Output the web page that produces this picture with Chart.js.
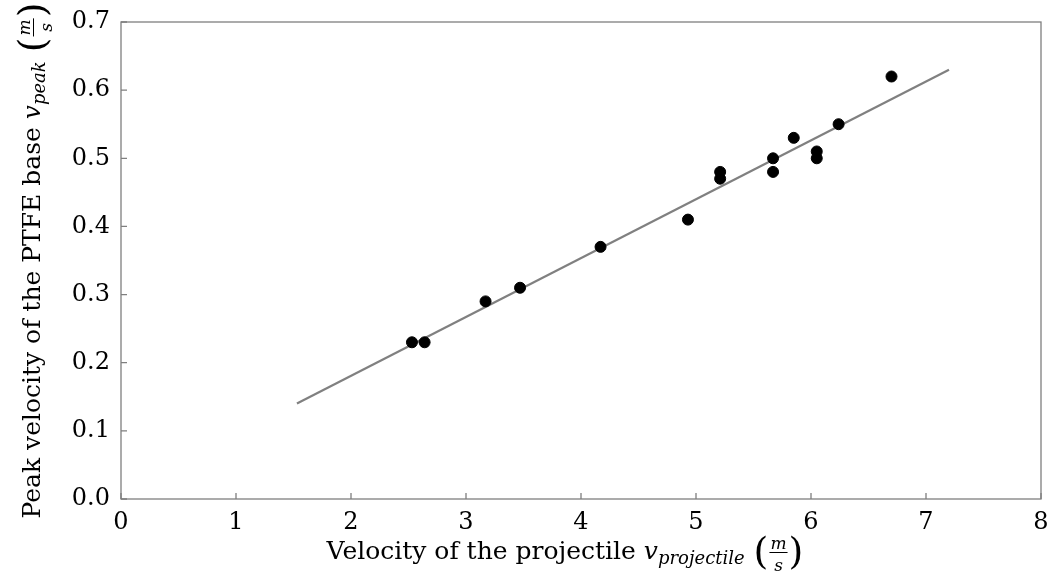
<!DOCTYPE html>
<html>
<head>
<meta charset="utf-8">
<script src="https://cdn.jsdelivr.net/npm/chart.js@4/dist/chart.umd.min.js"></script>
<style>
  html, body { margin: 0; padding: 0; background: #fff; }
  #wrap { width: 1049px; height: 576px; }
</style>
</head>
<body>
<div id="wrap"><canvas id="velChart" width="1049" height="576"></canvas></div>
<script>
// measured points
const projectileVel = [2.53, 2.64, 3.17, 3.47, 4.17, 4.93, 5.21, 5.21, 5.67, 5.67, 5.85, 6.05, 6.05, 6.24, 6.70];
const peakVel = [0.23, 0.23, 0.29, 0.31, 0.37, 0.41, 0.48, 0.47, 0.50, 0.48, 0.53, 0.51, 0.50, 0.55, 0.62];
// linear fit end points
const fitX = [1.53, 7.2];
const fitY = [0.14, 0.63];
// tick labels
const xTicks = [0, 1, 2, 3, 4, 5, 6, 7, 8];
const yTicks = [0.0, 0.1, 0.2, 0.3, 0.4, 0.5, 0.6, 0.7];

const SERIF = "'DejaVu Serif', 'Liberation Serif', serif";
const GRAY = "#7f7f7f";

// draws a title made of runs: plain text, italic subscript, (m/s) fraction
function drawRuns(ctx, runs) {
    const widths = runs.map(r => {
        ctx.font = r.font;
        if (r.frac) {
            return Math.max(ctx.measureText(r.num).width, ctx.measureText(r.den).width) + 4;
        }
        return ctx.measureText(r.text).width + (r.gap || 0);
    });
    const total = widths.reduce((a, b) => a + b, 0);
    let x = -total / 2;
    runs.forEach((r, i) => {
        ctx.font = r.font;
        if (r.frac) {
            const w = widths[i];
            ctx.textAlign = "center";
            ctx.fillText(r.num, x + w / 2, -10);
            ctx.fillText(r.den, x + w / 2, 12);
            ctx.beginPath();
            ctx.moveTo(x + 1, -6.5);
            ctx.lineTo(x + w - 1, -6.5);
            ctx.lineWidth = 1;
            ctx.strokeStyle = "#000";
            ctx.stroke();
            ctx.textAlign = "left";
        } else {
            ctx.fillText(r.text, x, r.dy || 0);
        }
        x += widths[i];
    });
}

function titleRuns(word, sub) {
    return [
        { text: word, font: "25px " + SERIF },
        { text: "v", font: "italic 25px " + SERIF },
        { text: sub, font: "italic 18px " + SERIF, dy: 5, gap: 9 },
        { text: "(", font: "38px " + SERIF, dy: 5 },
        { frac: true, num: "m", den: "s", font: "italic 17px " + SERIF },
        { text: ")", font: "38px " + SERIF, dy: 5 }
    ];
}

const framePlugin = {
    id: "frame",
    afterDraw(chart) {
        const { ctx, chartArea: a, scales } = chart;
        ctx.save();
        ctx.strokeStyle = GRAY;
        ctx.lineWidth = 1.3;
        ctx.strokeRect(a.left, a.top, a.right - a.left, a.bottom - a.top);
        // inward ticks
        ctx.beginPath();
        xTicks.forEach(v => {
            const px = scales.x.getPixelForValue(v);
            ctx.moveTo(px, a.bottom);
            ctx.lineTo(px, a.bottom - 6);
        });
        yTicks.forEach(v => {
            const py = scales.y.getPixelForValue(v);
            ctx.moveTo(a.left, py);
            ctx.lineTo(a.left + 6, py);
        });
        ctx.stroke();

        ctx.fillStyle = "#000";
        ctx.textBaseline = "alphabetic";
        ctx.textAlign = "left";
        // x title
        ctx.save();
        ctx.translate(565, 559);
        drawRuns(ctx, titleRuns("Velocity of the projectile ", "projectile"));
        ctx.restore();
        // y title
        ctx.save();
        ctx.translate(40, (a.top + a.bottom) / 2);
        ctx.rotate(-Math.PI / 2);
        drawRuns(ctx, titleRuns("Peak velocity of the PTFE base ", "peak"));
        ctx.restore();
        ctx.restore();
    }
};

const ctx = document.getElementById("velChart").getContext("2d");

new Chart(ctx, {
    type: "scatter",
    data: {
        datasets: [{
            label: "measured",
            data: projectileVel.map((v, i) => ({ x: v, y: peakVel[i] })),
            backgroundColor: "#000",
            borderColor: "#000",
            pointRadius: 5.5,
            pointHoverRadius: 5.5,
            order: 1
        }, {
            label: "fit",
            data: fitX.map((v, i) => ({ x: v, y: fitY[i] })),
            showLine: true,
            borderColor: "#808080",
            borderWidth: 2.2,
            pointRadius: 0,
            order: 2
        }]
    },
    options: {
        responsive: false,
        animation: false,
        layout: { padding: { top: 22, right: 8, left: 0, bottom: 0 } },
        plugins: {
            legend: { display: false },
            tooltip: { enabled: false }
        },
        scales: {
            x: {
                type: "linear",
                min: 0,
                max: 8,
                afterBuildTicks: s => { s.ticks = xTicks.map(v => ({ value: v })); },
                afterFit: s => { s.height = 77; s.paddingRight = 0; s.paddingLeft = 0; },
                grid: { display: false, drawTicks: false },
                border: { display: false },
                ticks: {
                    padding: 9,
                    color: "#000",
                    font: { family: SERIF, size: 24 },
                    callback: v => String(v)
                }
            },
            y: {
                type: "linear",
                min: 0,
                max: 0.7,
                afterBuildTicks: s => { s.ticks = yTicks.map(v => ({ value: v })); },
                afterFit: s => { s.width = 121; s.paddingTop = 0; s.paddingBottom = 0; },
                grid: { display: false, drawTicks: false },
                border: { display: false },
                ticks: {
                    padding: 11,
                    color: "#000",
                    font: { family: SERIF, size: 24 },
                    callback: v => v.toFixed(1)
                }
            }
        }
    },
    plugins: [framePlugin]
});
</script>
</body>
</html>
